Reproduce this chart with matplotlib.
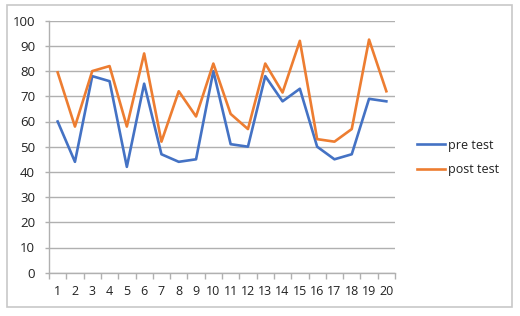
import matplotlib
matplotlib.use("Agg")
import matplotlib.pyplot as plt
from matplotlib.patches import Rectangle

categories = list(range(1, 21))
pre_test = [60, 44, 78, 76, 42, 75, 47, 44, 45, 80, 51, 50, 78, 68, 73, 50, 45, 47, 69, 68]
post_test = [79.5, 58, 80, 82, 58, 87, 52, 72, 62, 83, 63, 57, 83, 71.5, 92, 53, 52, 57, 92.5, 72]
y_ticks = list(range(0, 101, 10))

plt.rcParams['font.family'] = ['Open Sans', 'DejaVu Sans']

W, H = 520, 316
fig = plt.figure(figsize=(W / 100, H / 100), dpi=100)
fig.patch.set_facecolor('white')
fig.patches.append(Rectangle((7 / W, 1 - 307 / H), (512 - 7) / W, (307 - 5) / H,
                             transform=fig.transFigure, fill=False,
                             edgecolor='#c8c8c8', linewidth=1.2))

left, right, top, bottom = 49, 395, 20.7, 272.7
ax = fig.add_axes([left / W, 1 - bottom / H, (right - left) / W, (bottom - top) / H])

ax.plot(categories, pre_test, color='#4472C4', linewidth=1.9, label='pre test', zorder=3)
ax.plot(categories, post_test, color='#ED7D31', linewidth=1.9, label='post test', zorder=3)

ax.set_xlim(0.5, 20.5)
ax.set_ylim(0, 100)
ax.set_yticks(y_ticks)
ax.set_yticklabels([str(v) for v in y_ticks])
ax.set_xticks(categories)
ax.set_xticklabels([str(c) for c in categories])
ax.set_xticks([c - 0.5 for c in categories] + [20.5], minor=True)

ax.grid(axis='y', color='#b0b0b0', linewidth=1.0, zorder=0)
for s in ['top', 'right']:
    ax.spines[s].set_visible(False)
for s in ['left', 'bottom']:
    ax.spines[s].set_color('#b0b0b0')
    ax.spines[s].set_linewidth(1.0)

ax.tick_params(axis='x', which='major', length=0, pad=9, labelsize=9, colors='#222222')
ax.tick_params(axis='x', which='minor', length=4, color='#b0b0b0', width=1.0)
ax.tick_params(axis='y', which='major', length=3, color='#b0b0b0', width=1.0,
               labelsize=9.5, colors='#222222', pad=7)

fig.legend(loc='upper left', bbox_to_anchor=(406 / W, 1 - 127.5 / H),
           frameon=False, fontsize=9, handlelength=2.2, handletextpad=0.25,
           labelspacing=0.9, labelcolor='#222222')

fig.savefig('out.png', dpi=100, facecolor='white')
